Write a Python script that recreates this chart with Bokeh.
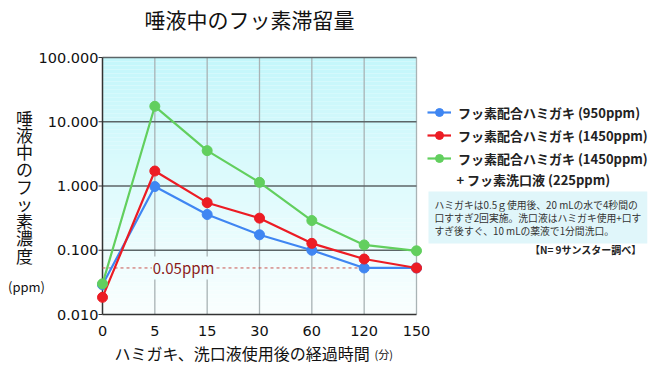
import numpy as np
from bokeh.plotting import figure
from bokeh.models import (ColumnDataSource, Label, Legend, LegendItem, Range1d, LogScale)
from bokeh.core.properties import value
from bokeh.embed import file_html
from bokeh.resources import INLINE

# ---- data ----
categories = ["0", "5", "15", "30", "60", "120", "150"]
series_names = ["フッ素配合ハミガキ (950ppm)", "フッ素配合ハミガキ (1450ppm)",
                "フッ素配合ハミガキ (1450ppm)"]
second_line = "+ フッ素洗口液 (225ppm)"
blue_vals = [0.029, 0.98, 0.36, 0.174, 0.100, 0.053, 0.053]
red_vals = [0.0185, 1.71, 0.55, 0.316, 0.128, 0.073, 0.053]
green_vals = [0.030, 17.4, 3.55, 1.14, 0.29, 0.121, 0.098]
threshold = 0.053
threshold_label = "0.05ppm"
y_ticks = [0.01, 0.1, 1, 10, 100]
y_tick_labels = ["0.010", "0.100", "1.000", "10.000", "100.000"]
colors = ["#3f86f2", "#ec1c24", "#62cf5e"]

title_text = "唾液中のフッ素滞留量"
y_title = "唾液中のフッ素濃度"
y_unit = "(ppm)"
x_title = "ハミガキ、洗口液使用後の経過時間"
x_unit = "(分)"
note_text = ("ハミガキは0.5ｇ使用後、20 mLの水で4秒間の\n"
             "口すすぎ2回実施。洗口液はハミガキ使用+口す\n"
             "すぎ後すぐ、10 mLの薬液で1分間洗口。")
source_text = "【N= 9サンスター調べ】"

FONT = "Noto Sans CJK JP"
NUMFONT = "DejaVu Sans"
xs = list(range(len(categories)))

# ---- layout (pixels) ----
W, H = 651, 368
PL, PR, PT, PB = 102, 416, 57, 314   # plot area in canvas pixels
ux = (PR - PL) / (xs[-1] - xs[0])
ly0, ly1 = np.log10(y_ticks[0]), np.log10(y_ticks[-1])
uy = (PB - PT) / (ly1 - ly0)
x_lo = xs[0] - PL / ux
x_hi = xs[-1] + (W - PR) / ux
y_lo = 10 ** (ly0 - (H - PB) / uy)
y_hi = 10 ** (ly1 + PT / uy)

p = figure(width=W, height=H, output_backend="svg", toolbar_location=None,
           x_axis_type=None, y_axis_type=None,
           x_range=Range1d(x_lo, x_hi), y_range=Range1d(y_lo, y_hi),
           min_border=0)
p.y_scale = LogScale()
p.outline_line_color = None
p.background_fill_color = "white"
p.border_fill_color = "white"
p.grid.visible = False

# gradient background (decoration)
N = 64
edges = 10 ** np.linspace(ly0, ly1, N + 1)
bot = np.array([250, 255, 255])
top = np.array([196, 247, 251])
cols = []
for i in range(N):
    t = (i + 0.5) / N
    c = (bot + (top - bot) * t).astype(int)
    cols.append("#%02x%02x%02x" % tuple(c))
p.quad(left=[xs[0]] * N, right=[xs[-1]] * N, bottom=edges[:-1], top=edges[1:],
       fill_color=cols, line_color=None)

# vertical grid lines
p.segment(x0=xs[1:], x1=xs[1:], y0=[y_ticks[0]] * (len(xs) - 1), y1=[y_ticks[-1]] * (len(xs) - 1),
          line_color="#a9b3b5", line_width=1.3)
# horizontal grid lines
p.segment(x0=[xs[0]] * (len(y_ticks) - 1), x1=[xs[-1]] * (len(y_ticks) - 1),
          y0=y_ticks[1:], y1=y_ticks[1:], line_color="#5c6567", line_width=1.3)
# axes lines
p.segment(x0=[xs[0]], x1=[xs[-1]], y0=[y_ticks[0]], y1=[y_ticks[0]], line_color="#333333", line_width=1.5)
p.segment(x0=[xs[0]], x1=[xs[0]], y0=[y_ticks[0]], y1=[y_ticks[-1]], line_color="#333333", line_width=1.5)
p.ray(x=[xs[0]] * len(y_ticks), y=y_ticks, length=4, length_units="screen", angle=np.pi,
      line_color="#333333", line_width=1.2)

# tick labels
p.text(x=[xs[0]] * len(y_ticks), y=y_ticks, text=y_tick_labels, x_offset=-4,
       text_align="right", text_baseline="middle", text_font=value(NUMFONT),
       text_font_size="14.5px", text_color="#111111")
p.text(x=xs, y=[y_ticks[0]] * len(xs), text=categories, y_offset=16,
       text_align="center", text_baseline="middle", text_font=value(NUMFONT),
       text_font_size="14.5px", text_color="#111111")

# threshold line
p.segment(x0=[xs[0]], x1=[xs[-1]], y0=[threshold], y1=[threshold],
          line_color="#c8554f", line_dash="3 3", line_width=1)
p.add_layout(Label(x=1.55, y=threshold, text=threshold_label, text_align="center",
                   text_baseline="middle", text_font=FONT, text_font_size="15px",
                   text_color="#8b1a1a", background_fill_color="#eefdfe",
                   padding=1))

# series
renderers = []
for vals, col in zip([blue_vals, red_vals, green_vals], colors):
    src = ColumnDataSource(dict(x=xs, y=vals))
    lr = p.line("x", "y", source=src, line_color=col, line_width=2.2)
    sr = p.scatter("x", "y", source=src, size=10, fill_color=col, line_color=col)
    renderers.append([lr, sr])

legend = Legend(items=[LegendItem(label=n, renderers=r) for n, r in zip(series_names, renderers)],
                location=(427, H - 168), orientation="vertical",
                background_fill_alpha=0, border_line_color=None, padding=0, margin=0,
                spacing=3, label_height=20, glyph_height=20, glyph_width=24,
                label_standoff=7, label_text_font=FONT, label_text_font_size="13px",
                label_text_font_style="bold", label_text_color="#222222")
p.add_layout(legend, "center")

def lab(px, py, text, **kw):
    p.add_layout(Label(x=px, y=H - py, x_units="screen", y_units="screen", text=text,
                       text_font=FONT, **kw))

lab(456, 179, second_line, text_baseline="middle", text_font_size="13px",
    text_font_style="bold", text_color="#222222")

# note box
lab(428, 191, note_text, text_baseline="top", text_font_size="9.8px",
    text_color="#333333", background_fill_color="#e0f6fa", padding=6,
    text_line_height=0.93)
lab(641, 249, source_text, text_align="right", text_baseline="middle",
    text_font_size="10px", text_font_style="bold", text_color="#222222")

# titles
lab(249, 18, title_text, text_align="center", text_baseline="middle",
    text_font_size="21px", text_color="#111111")
lab(24, 104, "\n".join(y_title), text_align="center", text_baseline="top",
    text_font_size="17px", text_color="#111111", text_line_height=0.69)
lab(26, 286, y_unit, text_align="center", text_baseline="middle",
    text_font_size="13px", text_color="#111111")
lab(114, 352, x_title, text_baseline="middle", text_font_size="16px", text_color="#111111")
lab(374, 353, x_unit, text_baseline="middle", text_font_size="11px", text_color="#111111")

open("out.html", "w").write(file_html(p, INLINE))
